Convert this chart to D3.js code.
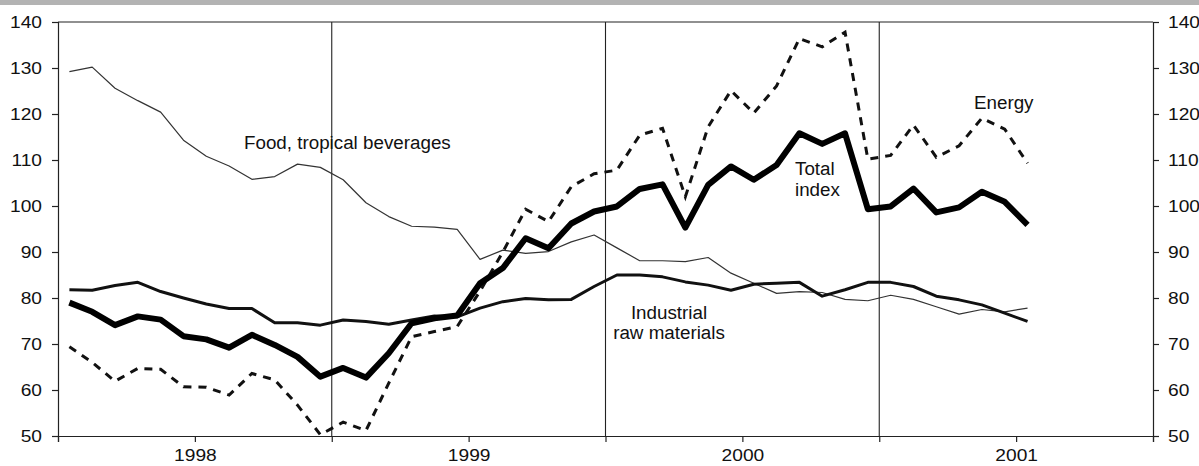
<!DOCTYPE html>
<html>
<head>
<meta charset="utf-8">
<script src="https://cdn.jsdelivr.net/npm/d3@7"></script>
<style>
  body { margin: 0; background: #fff; }
  text { font-family: "Liberation Sans", Arial, sans-serif; fill: #111; }
</style>
</head>
<body>
<div id="vis"></div>
<script>
// monthly index values, Jan 1998 .. Jul 2001
let food = [129.2, 130.2, 125.6, 122.9, 120.4, 114.3, 110.8, 108.7, 105.8, 106.4,
  109.1, 108.4, 105.7, 100.7, 97.7, 95.6, 95.4, 94.9, 88.4, 90.4,
  89.7, 90.1, 92.2, 93.7, 90.9, 88.1, 88.1, 87.9, 88.8, 85.4,
  83.2, 81.0, 81.4, 81.2, 79.7, 79.4, 80.6, 79.7, 78.1, 76.5,
  77.5, 77.0, 77.8]
let industrial = [81.8, 81.7, 82.7, 83.4, 81.4, 80.0, 78.7, 77.7, 77.7, 74.6,
  74.6, 74.1, 75.2, 74.9, 74.3, 75.2, 76.1, 75.9, 77.8, 79.2,
  79.9, 79.6, 79.7, 82.5, 85.0, 85.0, 84.6, 83.5, 82.8, 81.7,
  83.0, 83.2, 83.4, 80.4, 81.8, 83.4, 83.4, 82.5, 80.4, 79.6,
  78.5, 76.7, 74.9]
let total = [79.0, 77.0, 74.1, 76.0, 75.3, 71.7, 71.0, 69.2, 72.0, 69.8,
  67.2, 62.9, 64.8, 62.7, 68.0, 74.5, 75.6, 76.2, 83.2, 86.5,
  93.0, 90.8, 96.2, 98.8, 99.9, 103.7, 104.7, 95.3, 104.6, 108.6,
  105.7, 108.9, 115.8, 113.5, 115.8, 99.3, 99.9, 103.8, 98.6, 99.7,
  103.1, 100.9, 95.9]
let energy = [69.4, 66.0, 61.9, 64.7, 64.5, 60.7, 60.6, 58.9, 63.6, 62.2,
  56.7, 50.3, 53.0, 51.2, 61.5, 71.6, 72.7, 73.8, 81.5, 90.0,
  99.3, 96.6, 104.2, 107.0, 107.8, 115.4, 116.9, 102.0, 117.2, 125.1,
  120.2, 126.1, 136.4, 134.6, 137.8, 110.2, 111.0, 117.6, 110.6, 113.1,
  119.1, 116.7, 109.3]
let years = ['1998', '1999', '2000', '2001']
let yTicks = [50, 60, 70, 80, 90, 100, 110, 120, 130, 140]

let W = 1199, H = 466

let svg = d3.select('#vis')
  .append('svg')
  .attr('width', W)
  .attr('height', H)
  .style('display', 'block')

// grey band on top
svg.append('rect')
  .attr('x', 0).attr('y', 0)
  .attr('width', W).attr('height', 5)
  .attr('fill', '#b3b3b3')

let x = d3.scaleLinear().domain([0, 48]).range([58, 1153])
let y = d3.scaleLinear().domain([50, 140]).range([436, 22])

// frame: top line and year separators
svg.append('line')
  .attr('x1', x(0)).attr('x2', x(48))
  .attr('y1', y(140)).attr('y2', y(140))
  .attr('stroke', '#222').attr('stroke-width', 1.2)

svg.selectAll('.sep')
  .data([12, 24, 36])
  .enter().append('line')
  .attr('class', 'sep')
  .attr('x1', d => x(d)).attr('x2', d => x(d))
  .attr('y1', y(140)).attr('y2', y(50))
  .attr('stroke', '#222').attr('stroke-width', 1.1)

// axes
let leftAxis = svg.append('g')
  .attr('transform', `translate(${x(0)},0)`)
  .call(d3.axisLeft(y).tickValues(yTicks).tickSize(6).tickPadding(10))
let rightAxis = svg.append('g')
  .attr('transform', `translate(${x(48)},0)`)
  .call(d3.axisRight(y).tickValues(yTicks).tickSize(6).tickPadding(9))
let bottomAxis = svg.append('g')
  .attr('transform', `translate(0,${y(50)})`)
  .call(d3.axisBottom(x)
    .tickValues(d3.range(0, 49, 6))
    .tickSize(6).tickPadding(7)
    .tickFormat(d => d % 12 === 6 ? years[(d - 6) / 12] : ''))

// the original tick font is a bit wider than Liberation Sans
;[leftAxis, rightAxis, bottomAxis].forEach(g => {
  g.select('.domain').attr('stroke', '#222').attr('stroke-width', 1.2)
  g.selectAll('.tick line').attr('stroke', '#222').attr('stroke-width', 1.2)
  g.selectAll('text')
    .style('font-family', '"Liberation Sans", Arial, sans-serif')
    .style('font-size', '17px')
    .attr('fill', '#111')
    .attr('transform', function() {
      let tx = +this.getAttribute('x') || 0
      return `translate(${tx},0) scale(1.13,1) translate(${-tx},0)`
    })
})

// series
let line = d3.line()
  .x((d, i) => x(i + 0.5))
  .y(d => y(d))

svg.append('path')
  .datum(food)
  .attr('d', line)
  .attr('fill', 'none')
  .attr('stroke', '#333')
  .attr('stroke-width', 1.2)
  .attr('stroke-linejoin', 'round')

svg.append('path')
  .datum(industrial)
  .attr('d', line)
  .attr('fill', 'none')
  .attr('stroke', '#111')
  .attr('stroke-width', 3)
  .attr('stroke-linejoin', 'round')

svg.append('path')
  .datum(energy)
  .attr('d', line)
  .attr('fill', 'none')
  .attr('stroke', '#111')
  .attr('stroke-width', 3)
  .attr('stroke-dasharray', '8,7')

svg.append('path')
  .datum(total)
  .attr('d', line)
  .attr('fill', 'none')
  .attr('stroke', '#000')
  .attr('stroke-width', 6)
  .attr('stroke-linejoin', 'round')

// labels
let labels = [
  { t: 'Food, tropical beverages', x: 244, y: 149, a: 'start' },
  { t: 'Total', x: 795, y: 175, a: 'start' },
  { t: 'index', x: 795, y: 196, a: 'start' },
  { t: 'Energy', x: 974, y: 109, a: 'start' },
  { t: 'Industrial', x: 669, y: 319, a: 'middle' },
  { t: 'raw materials', x: 669, y: 339, a: 'middle' }
]
svg.selectAll('.lab')
  .data(labels)
  .enter().append('text')
  .attr('class', 'lab')
  .attr('x', d => d.x)
  .attr('y', d => d.y)
  .attr('text-anchor', d => d.a)
  .style('font-size', '18.8px')
  .text(d => d.t)
</script>
</body>
</html>
